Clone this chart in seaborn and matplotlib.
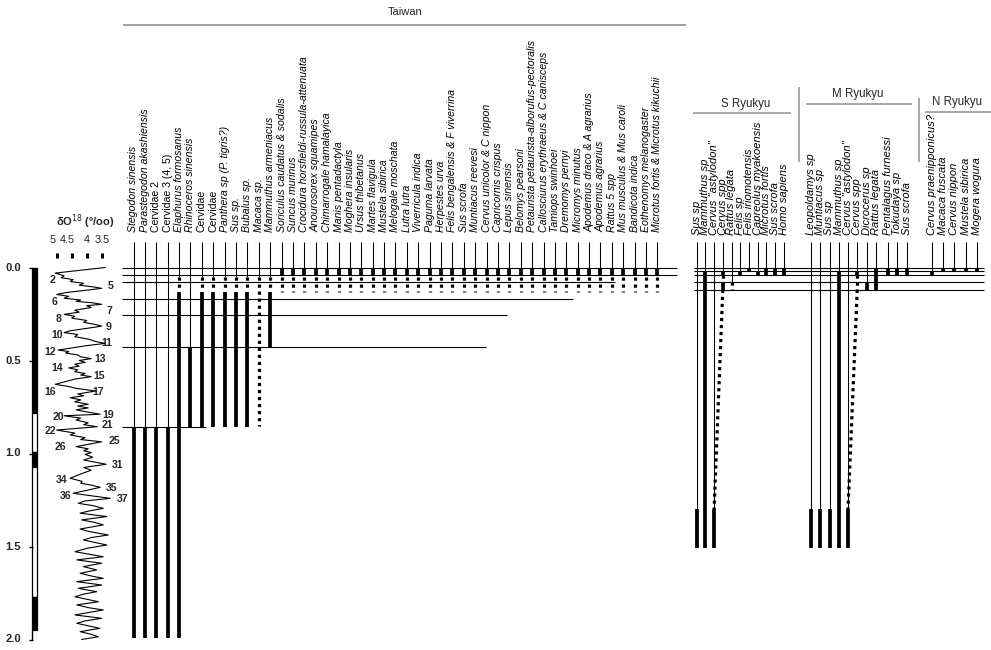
import numpy as np
import matplotlib
matplotlib.use("Agg")
import matplotlib.pyplot as plt
import seaborn as sns

# ---------------- data ----------------
taiwan_species = [
    "Stegodon sinensis", "Parastegodon akashiensis", "Cervidae 2", "Cervidae 3 (4, 5)",
    "Elaphurus formosanus", "Rhinoceros sinensis", "Cervidae", "Cervidae",
    "Panthera sp (P. tigris?)", "Sus sp.", "Bubalus sp.", "Macaca sp.",
    "Mammuthus armeniacus", "Soriculus caudatus & sodalis", "Suncus murinus",
    "Crocidura horsfieldi-russula-attenuata", "Anourosorex squamipes",
    "Chimarrogale hamalayica", "Manis pentadactyla", "Moghera insularis",
    "Ursus thibetanus", "Martes flavigula", "Mustela sibirica", "Melogale moschata",
    "Lutra lutra", "Viverricula indica", "Paguma larvata", "Herpestes urva",
    "Felis bengalensis & F viverrina", "Sus scrofa", "Muntiacus reevesi",
    "Cervus unicolor & C nippon", "Capricornis crispus", "Lepus sinensis",
    "Belomys pearsoni", "Petaurista petaurista-alborufus-pectoralis",
    "Callosciurus erythraeus & C canisceps", "Tamiops swinhoei", "Dremomys pernyi",
    "Micromys minutus", "Apodemus draco & A agrarius", "Apodemus agrarius",
    "Rattus 5 spp", "Mus musculus & Mus caroli", "Bandicota indica",
    "Eothenomys melanogaster", "Microtus fortis & Microtus kikuchii",
]
nan = np.nan
# ranges in Ma (thick = confirmed, dots = uncertain)
tw_thick_top = [0.86] * 4 + [0.13, 0.43] + [0.13] * 5 + [nan, 0.13] + [0.0] * 34
tw_thick_base = [1.99] * 5 + [0.86] * 6 + [nan, 0.43] + [0.04] * 34
tw_dot_top = [nan] * 4 + [0.05, nan] + [0.05] * 7 + [0.05] * 34
tw_dot_base = [nan] * 4 + [0.12, nan] + [0.12] * 5 + [0.85, 0.12] + [0.13] * 34
tw_levels = [0.0, 0.04, 0.08, 0.17, 0.255, 0.43, 0.86]

s_species = ["Sus sp", "Mammuthus sp", 'Cervus "astylodon"', "Cervus spp", "Rattus legata",
             "Felis sp", "Felis iriomotensis", "Capreolus myakoensis", "Microtus fortis",
             "Sus scrofa", "Homo sapiens"]
s_thick = [(0, 1.30, 1.51), (1, 0.02, 1.51), (2, 1.30, 1.51), (3, 0.02, 0.04), (3, 0.08, 0.12),
           (5, 0.02, 0.04), (6, 0.0, 0.02), (7, 0.02, 0.04), (8, 0.0, 0.04),
           (9, 0.0, 0.04), (10, 0.0, 0.04)]
s_dots = [(3, 0.04, 0.08), (4, 0.08, 0.12)]
s_link = [(3, 0.12, 2, 1.30)]

m_species = ["Leopoldamys sp", "Muntiacus sp", "Sus sp", "Mammuthus sp", 'Cervus "astylodon"',
             "Cervus spp", "Dicrocerus sp", "Rattus legata", "Pentalagus furnessi",
             "Tokudaya sp", "Sus scrofa"]
m_thick = [(0, 1.30, 1.51), (1, 1.30, 1.51), (2, 1.30, 1.51), (3, 0.02, 1.51), (4, 1.30, 1.51),
           (5, 0.02, 0.04), (6, 0.08, 0.12), (7, 0.0, 0.12), (8, 0.0, 0.04),
           (9, 0.0, 0.04), (10, 0.0, 0.04)]
m_dots = [(5, 0.04, 0.12)]
m_link = [(5, 0.12, 4, 1.30)]

n_species = ["Cervus praenipponicus?", "Macaca fuscata", "Cervus nippon",
             "Mustela sibirica", "Mogera wogura"]
n_thick = [(0, 0.02, 0.04), (1, 0.0, 0.02), (2, 0.0, 0.02), (3, 0.0, 0.02), (4, 0.0, 0.02)]
ryukyu_levels = [0.0, 0.02, 0.04, 0.08, 0.12]

d18o_age = [0.000, 0.030, 0.045, 0.055, 0.065, 0.075, 0.085, 0.095, 0.105, 0.112,
            0.120, 0.135, 0.145, 0.155, 0.165, 0.175, 0.182, 0.190, 0.198, 0.205,
            0.215, 0.230, 0.240, 0.252, 0.262, 0.272, 0.285, 0.295, 0.305, 0.315,
            0.325, 0.340, 0.350, 0.360, 0.372, 0.385, 0.398, 0.408, 0.420, 0.435,
            0.444, 0.452, 0.460, 0.470, 0.480, 0.490, 0.500, 0.510, 0.520, 0.530,
            0.540, 0.550, 0.560, 0.570, 0.578, 0.587, 0.600, 0.615, 0.628, 0.640,
            0.650, 0.664, 0.680, 0.690, 0.700, 0.712, 0.722, 0.735, 0.745, 0.755,
            0.765, 0.775, 0.789, 0.797, 0.810, 0.820, 0.835, 0.845, 0.856, 0.874,
            0.890, 0.900, 0.915, 0.925, 0.937, 0.963, 0.975, 0.985, 0.995, 1.005,
            1.020, 1.035, 1.058, 1.075, 1.090, 1.110, 1.133, 1.150, 1.160, 1.170,
            1.182, 1.214, 1.241, 1.255, 1.268, 1.280, 1.295, 1.310, 1.321, 1.339,
            1.357, 1.370, 1.384, 1.406, 1.420, 1.438, 1.452, 1.465, 1.492, 1.510,
            1.528, 1.555, 1.572, 1.590, 1.608, 1.626, 1.644, 1.660, 1.671, 1.689,
            1.707, 1.725, 1.743, 1.756, 1.770, 1.797, 1.814, 1.830, 1.841, 1.868,
            1.886, 1.900, 1.913, 1.940, 1.958, 1.972, 1.985, 2.000]
d18o_value = [3.38, 5.05, 4.75, 4.85, 4.45, 4.55, 4.10, 4.25, 3.75, 3.50,
              3.90, 4.70, 5.00, 4.60, 4.75, 4.20, 4.35, 3.80, 3.50, 4.00,
              3.85, 4.40, 4.25, 4.75, 4.40, 4.50, 4.00, 4.10, 3.75, 3.50,
              3.90, 4.55, 4.75, 4.30, 4.40, 3.95, 3.70, 3.38, 4.00, 4.60,
              4.95, 4.60, 4.70, 4.30, 4.20, 3.85, 4.25, 4.05, 4.40, 4.25,
              4.60, 4.30, 4.40, 4.05, 4.20, 3.85, 4.40, 4.75, 5.05, 4.60,
              4.35, 3.70, 4.30, 4.10, 4.55, 4.20, 4.40, 3.95, 4.30, 3.95,
              4.35, 4.05, 3.55, 4.75, 4.20, 4.35, 3.95, 4.10, 3.65, 5.00,
              4.40, 4.55, 4.05, 4.20, 3.50, 4.35, 3.95, 4.10, 3.85, 4.05,
              3.80, 4.10, 3.35, 4.10, 3.85, 4.20, 4.55, 4.15, 4.20, 3.85,
              3.55, 4.45, 3.22, 4.05, 4.28, 3.80, 3.45, 3.95, 4.22, 3.33,
              4.17, 3.75, 3.45, 4.22, 3.90, 3.28, 3.85, 4.11, 3.33, 4.00,
              4.39, 3.45, 4.33, 3.50, 4.11, 3.67, 4.22, 3.80, 3.45, 4.33,
              3.50, 4.28, 3.67, 4.10, 4.39, 3.61, 4.33, 3.90, 3.45, 4.39,
              3.50, 4.05, 4.33, 3.56, 4.22, 3.85, 3.61, 4.17]
assert len(d18o_age) == len(d18o_value)

mis_stage = ["2", "5", "6", "7", "8", "9", "10", "11", "12", "13", "14", "15", "16",
             "17", "19", "20", "21", "22", "25", "26", "31", "34", "35", "36", "37"]
polarity_top = [0.0, 0.78, 0.99, 1.07, 1.77]
polarity_base = [0.78, 0.99, 1.07, 1.77, 1.95]
polarity_normal = [True, False, True, False, True]
age_ticks = [0.0, 0.5, 1.0, 1.5, 2.0]
d18o_ticks = [5, 4.5, 4, 3.5]

# ---------------- layout (pixels) ----------------
W, H = 991, 650
Y0, PX_PER_MA = 267.5, 186.0


def ty(px):
    return (px - Y0) / PX_PER_MA


tw_x = 133.5 + 11.39 * np.arange(len(taiwan_species))
s_x = 696.7 + 8.7 * np.arange(len(s_species))
m_x = 811.0 + 9.25 * np.arange(len(m_species)) + np.where(np.arange(len(m_species)) >= 8, 3.0, 0.0)
n_x = 931.7 + 11.33 * np.arange(len(n_species))
tw_level_end = [677, 677, 615, 573, 507, 486, 206]
mis_x = [52, 111, 55, 109, 59, 109, 57, 107, 50, 100, 57, 99, 50, 98, 108, 58, 107, 50,
         114, 60, 118, 62, 112, 66, 123]
mis_y = [280, 286, 302, 311, 319, 327, 335, 343, 352, 359, 368, 376, 392, 392, 415, 417,
         425, 431, 441, 447, 465, 480, 488, 496, 499]
d18o_tick_label_x = [53, 67, 87, 102]

THICK = 2.7
THIN = 0.75
DOTLS = (0, (1.0, 1.2))
DOTW = 2.3

sns.set_theme(style="white")
plt.rcParams['font.family'] = ['Liberation Sans', 'DejaVu Sans']

fig = plt.figure(figsize=(W / 100, H / 100), dpi=100)
ax = fig.add_axes([0, 0, 1, 1])
ax.set_xlim(0, W)
ax.set_ylim(ty(H), ty(0))
ax.axis('off')


def labels(xs, names, bottom_px, size):
    for x, name in zip(xs, names):
        style = 'normal' if name.startswith('Cervidae') else 'italic'
        ax.text(x, ty(bottom_px), name, rotation=90, ha='center', va='bottom',
                fontsize=size, style=style, color='black')


# ---- Taiwan ----
labels(tw_x, taiwan_species, 232, 7.6)
first_mark = np.fmin(np.array(tw_thick_top, float), np.array(tw_dot_top, float))
ax.vlines(tw_x, ty(241.5), first_mark, color='black', lw=THIN)
for x, t0, t1 in zip(tw_x, tw_thick_top, tw_thick_base):
    if not np.isnan(t0):
        ax.vlines(x, t0, t1, color='black', lw=THICK)
for x, t0, t1 in zip(tw_x, tw_dot_top, tw_dot_base):
    if not np.isnan(t0):
        ax.vlines(x, t0, t1, color='black', lw=DOTW, linestyles=[DOTLS])
ax.hlines(tw_levels, 122, tw_level_end, color='black', lw=0.8)
ax.text(405, ty(12), "Taiwan", ha='center', va='center', fontsize=8)
ax.hlines(ty(25), 123, 686, color='#9a9a9a', lw=1.3)


# ---- Ryukyu ----
def ryukyu(xs, names, thick, dots, links):
    labels(xs, names, 235, 8.0)
    first = {}
    for i, t0, t1 in thick + dots:
        first[i] = min(first.get(i, 9), t0)
    for i, x in enumerate(xs):
        ax.vlines(x, ty(241.5), first.get(i, 0.0), color='black', lw=THIN)
    for i, t0, t1 in thick:
        ax.vlines(xs[i], t0, t1, color='black', lw=THICK)
    for i, t0, t1 in dots:
        ax.vlines(xs[i], t0, t1, color='black', lw=DOTW, linestyles=[DOTLS])
    for i, t0, j, t1 in links:
        ax.plot([xs[i], xs[j]], [t0, t1], color='black', lw=DOTW, ls=DOTLS)


ryukyu(s_x, s_species, s_thick, s_dots, s_link)
ryukyu(m_x, m_species, m_thick, m_dots, m_link)
ryukyu(n_x, n_species, n_thick, [], [])
ax.hlines(ryukyu_levels, 694, 984, color='black', lw=0.8)

ax.text(746, ty(104), "S Ryukyu", ha='center', va='center', fontsize=8.3)
ax.hlines(ty(113), 693, 791, color='#9a9a9a', lw=1.2)
ax.text(858, ty(94), "M Ryukyu", ha='center', va='center', fontsize=8.3)
ax.hlines(ty(104), 806, 912, color='#9a9a9a', lw=1.2)
ax.text(957, ty(102), "N Ryukyu", ha='center', va='center', fontsize=8.3)
ax.hlines(ty(112), 925, 991, color='#9a9a9a', lw=1.2)
ax.vlines(798.5, ty(87), ty(162), color='#9a9a9a', lw=1.2)
ax.vlines(919, ty(98), ty(162), color='#9a9a9a', lw=1.2)

# ---- age axis + magnetic polarity ----
for t in age_ticks:
    ax.text(21, t, f"{t:.1f}", ha='right', va='center', fontsize=8, fontweight='bold')
ax.hlines(age_ticks, 28.5, 33, color='black', lw=1.0)
ax.bar([34.2] * len(polarity_top), np.subtract(polarity_base, polarity_top), bottom=polarity_top,
       width=5, color=['black' if n else 'white' for n in polarity_normal],
       edgecolor='black', lw=0.9)
ax.vlines(31.7, polarity_base[-1], 2.0, color='black', lw=1.0)

# ---- oxygen isotope curve ----
ax2 = fig.add_axes([41.7 / W, 0, 75 / W, 1])
sns.lineplot(x=d18o_value, y=d18o_age, sort=False, estimator=None, orient='y',
             color='black', lw=0.8, ax=ax2)
ax2.set_xlim(5.5, 3.0)
ax2.set_ylim(ty(H), ty(0))
ax2.axis('off')
ax2.patch.set_alpha(0)
ax2.vlines(d18o_ticks, ty(252.5), ty(258), color='black', lw=2.2)
for v, px in zip(d18o_ticks, d18o_tick_label_x):
    ax.text(px, ty(240), f"{v:g}", ha='center', va='center', fontsize=7.8)
ax.text(85, ty(222), "δO$^{18}$ (º/oo)", ha='center', va='center', fontsize=8, fontweight='bold')

for s, px, py in zip(mis_stage, mis_x, mis_y):
    ax.text(px, ty(py), s, ha='center', va='center', fontsize=7.6, fontweight='bold')

fig.savefig("out.png", dpi=100)
